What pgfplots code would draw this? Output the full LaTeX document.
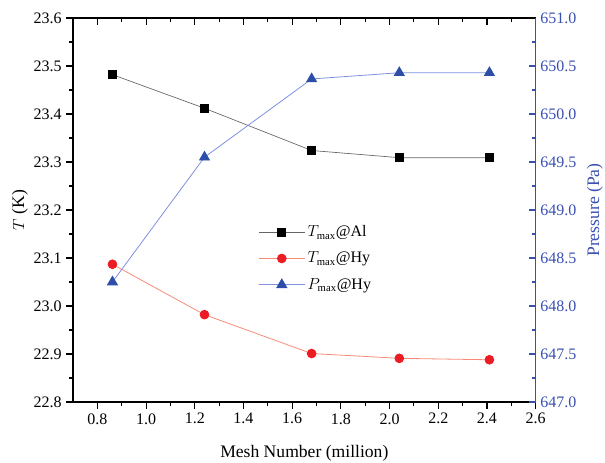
\documentclass[border=0pt]{standalone}
\usepackage{pgfplots}
\pgfplotsset{compat=1.18}
\usepackage{fontspec}
\setmainfont{Liberation Serif}

\definecolor{axblue}{RGB}{58,80,176}
\definecolor{mkblue}{RGB}{44,78,168}
\definecolor{lnblue}{RGB}{128,144,224}
\definecolor{mkred}{RGB}{236,28,36}
\definecolor{lnred}{RGB}{246,140,120}
\definecolor{lngray}{RGB}{100,100,100}

\pgfplotsset{
  common/.style={
    scale only axis,
    width=347pt, height=288pt,
    xmin=0.7, xmax=2.6,
    xtick={0.8,1.0,...,2.6},
    minor x tick num=1,
    minor y tick num=1,
    major tick length=5pt,
    minor tick length=2.8pt,
    axis line style={-, line width=0.9pt},
    every tick/.style={line width=0.8pt},
    tick label style={font=\fontsize{12}{14}\selectfont},
    label style={font=\fontsize{13.2}{15}\selectfont},
    /pgf/number format/assume math mode=true,
    /pgf/number format/.cd, fixed, fixed zerofill, precision=1,
  },
}

\begin{document}
\begin{tikzpicture}
\path[use as bounding box] (-54.75pt,-45pt) rectangle (399pt,301.5pt);

% temperature axis (left)
\begin{axis}[
  common,
  axis x line*=bottom, axis y line*=left,
  tick align=outside,
  ymin=22.8, ymax=23.6,
  ytick={22.8,22.9,...,23.6},
  xlabel={Mesh Number (million)},
  ylabel={$T$ (K)},
  xlabel style={at={(axis description cs:0.5,-0.133)}, anchor=center},
  ylabel style={at={(axis description cs:-0.115,0.5)}, anchor=center},
]
\addplot[color=lngray, line width=0.5pt, mark=square*,
  mark options={black, solid, mark size=3pt}]
  coordinates {(0.862,23.482) (1.240,23.412) (1.680,23.324) (2.040,23.309) (2.410,23.309)};
\addplot[color=lnred, line width=0.6pt, mark=*,
  mark options={mkred, solid, mark size=3.3pt}]
  coordinates {(0.862,23.087) (1.240,22.982) (1.680,22.901) (2.040,22.891) (2.410,22.888)};
\end{axis}

% pressure axis (right)
\begin{axis}[
  common,
  axis x line*=top, axis y line*=right,
  tick align=inside,
  xticklabels={},
  ymin=647, ymax=651,
  ytick={647,647.5,...,651},
  y axis line style={axblue},
  ytick style={axblue},
  yticklabel style={axblue},
  ylabel={Pressure (Pa)},
  ylabel style={axblue, at={(axis description cs:1.128,0.5)}, anchor=center},
  legend image code/.code={
    \draw[mark repeat=2,mark phase=2,#1]
      plot coordinates {(0cm,0cm) (0.6cm,0cm) (1.2cm,0cm)};
  },
  legend style={draw=none, fill=none, at={(axis description cs:0.392,0.374)},
    anchor=west, font=\fontsize{12}{14}\selectfont, row sep=6pt,
    cells={anchor=west}},
]
\addlegendimage{color=lngray, line width=0.5pt, mark=square*, mark options={black, solid, mark size=3pt}}
\addlegendentry{$T_{\mathrm{max}}$@Al}
\addlegendimage{color=lnred, line width=0.6pt, mark=*, mark options={mkred, solid, mark size=3.3pt}}
\addlegendentry{$T_{\mathrm{max}}$@Hy}
\addplot[color=lnblue, line width=0.6pt, mark=triangle*,
  mark options={mkblue, solid, mark size=4.3pt}]
  coordinates {(0.862,648.25) (1.240,649.55) (1.680,650.365) (2.040,650.43) (2.410,650.43)};
\addlegendentry{$P_{\mathrm{max}}$@Hy}
\end{axis}
\end{tikzpicture}
\end{document}
